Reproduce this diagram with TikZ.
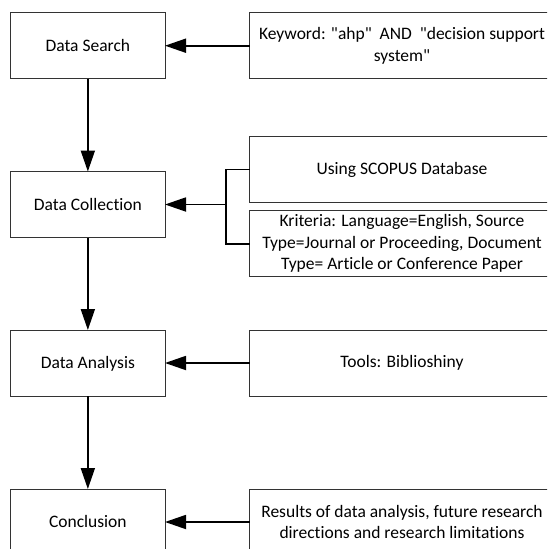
\documentclass[tikz,border=0pt]{standalone}
\usepackage{fontspec}
\setmainfont{Carlito}[Ligatures={NoCommon}]
\usetikzlibrary{arrows.meta}
\newcommand{\rboxtext}[1]{\parbox[c]{305pt}{\centering #1}}
\newcommand{\sq}{\XeTeXglyph\XeTeXcharglyph"0022\relax}
\begin{document}
\begin{tikzpicture}[x=1pt,y=-1pt,
  lbox/.style={draw=black!80, line width=1pt, rectangle, minimum width=154.3pt,
    minimum height=66pt, inner sep=0pt, outer sep=0pt, text height=11.4pt, text depth=0pt,
    font=\fontsize{17.5}{21.5}\selectfont},
  rbox/.style={draw=black!80, line width=1pt, rectangle, minimum height=66pt,
    inner sep=0pt, outer sep=0pt, anchor=west, font=\fontsize{17.5}{21.5}\selectfont},
  conn/.style={line width=1.8pt, -{Triangle[length=21pt,width=14pt]}},
  link/.style={line width=1.8pt}]
\useasboundingbox (0,0) rectangle (547,549);
\clip (0,0) rectangle (547,549);
\fill[white] (0,0) rectangle (547,549);
% left column
\node[lbox] (search) at (87.85,45.7) {Data Search};
\node[lbox] (coll)   at (87.85,204.5) {Data Collection};
\node[lbox] (anal)   at (87.85,363) {Data Analysis};
\node[lbox] (conc)   at (87.85,522) {Conclusion};
% right column
\node[rbox] (kw)   at (249.5,45.7) {\rboxtext{Keyword: \sq ahp\sq\ \ AND\ \ \sq decision support\\ system\sq}};
\node[rbox] (scop) at (249.5,169.5) {\rboxtext{Using SCOPUS Database}};
\node[rbox] (krit) at (249.5,243.7) {\rboxtext{Kriteria: Language=English, Source\\ Type=Journal or Proceeding, Document\\ Type= Article or Conference Paper}};
\node[rbox] (tool) at (249.5,363) {\rboxtext{Tools: Biblioshiny}};
\node[rbox] (res)  at (249.5,522) {\rboxtext{Results of data analysis, future research\\ directions and research limitations}};
% vertical flow
\draw[conn] (search) -- (coll);
\draw[conn] (coll) -- (anal);
\draw[conn] (anal) -- (conc);
% horizontal inputs
\draw[conn] (kw.west) -- (kw.west -| search.east);
\coordinate (jc) at (226,204.5);
\draw[link] (scop.west) -| (jc) |- (krit.west);
\draw[conn] (jc) -- (jc -| coll.east);
\draw[conn] (tool.west) -- (tool.west -| anal.east);
\draw[conn] (res.west) -- (res.west -| conc.east);
\end{tikzpicture}
\end{document}
